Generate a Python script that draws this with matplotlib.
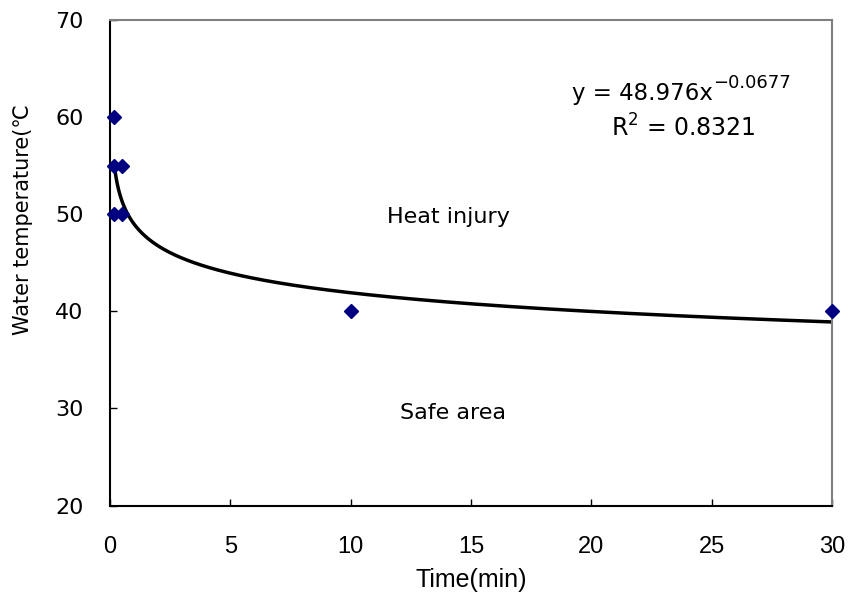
import numpy as np
import matplotlib
matplotlib.use('Agg')
import matplotlib.pyplot as plt

# observed points (time in min, water temperature)
time_min = [0.167, 0.167, 0.5, 0.167, 0.5, 10, 30]
temp_c = [60, 55, 55, 50, 50, 40, 40]

# power trendline shown on the chart: y = a * x^b
fit_a = 48.976
fit_b = -0.0677
fit_r2 = 0.8321

x_ticks = [0, 5, 10, 15, 20, 25, 30]
y_ticks = [20, 30, 40, 50, 60, 70]


def main() -> None:
    plt.rcParams['font.family'] = ['DejaVu Sans']
    plt.rcParams['mathtext.default'] = 'regular'

    fig = plt.figure(figsize=(8.5, 6.01), dpi=100)
    ax = fig.add_axes([0.1294, 0.1586, 0.8494, 0.8086])

    xs = np.geomspace(min(time_min), max(time_min), 300)
    ax.plot(xs, fit_a * xs ** fit_b, color='black', lw=2.5, zorder=2)
    ax.plot(time_min, temp_c, ls='none', marker='D', ms=7,
            color='#000080', zorder=3, clip_on=False)

    ax.set_xlim(0, 30)
    ax.set_ylim(20, 70)
    ax.set_xticks(x_ticks)
    ax.set_yticks(y_ticks)
    ax.tick_params(axis='x', direction='in', length=5, width=1, pad=22,
                   labelsize=17)
    ax.tick_params(axis='y', direction='in', length=5, width=1, pad=19,
                   labelsize=16)
    for lab in ax.get_xticklabels():
        lab.set_family('Liberation Sans')

    for side in ['left', 'bottom']:
        ax.spines[side].set_color('black')
        ax.spines[side].set_linewidth(1.5)
    for side in ['top', 'right']:
        ax.spines[side].set_color('#808080')
        ax.spines[side].set_linewidth(1.5)

    ax.set_xlabel('Time(min)', fontsize=18, family='Liberation Sans')
    ax.xaxis.set_label_coords(0.5, -0.128)
    fig.text(0.027, 0.634, 'Water temperature(℃', rotation=90, fontsize=15,
             ha='center', va='center')

    ax.text(14.08, 49.7, 'Heat injury', fontsize=16, ha='center', va='center')
    ax.text(14.25, 29.5, 'Safe area', fontsize=16, ha='center', va='center')
    eq = ax.text(19.2, 61.74, 'y = %.3fx' % fit_a, fontsize=16.5,
                 ha='left', va='baseline')
    ax.annotate('\u2212%.4f' % abs(fit_b), xy=(1, 1), xycoords=eq,
                xytext=(0, -4), textcoords='offset points', fontsize=13,
                ha='left', va='baseline')
    ax.text(20.8, 57.93, 'R$^{2}$ = %.4f' % fit_r2, fontsize=17,
            ha='left', va='baseline')

    fig.savefig('out.png', dpi=100)
    plt.close(fig)


if __name__ == "__main__":
    main()
